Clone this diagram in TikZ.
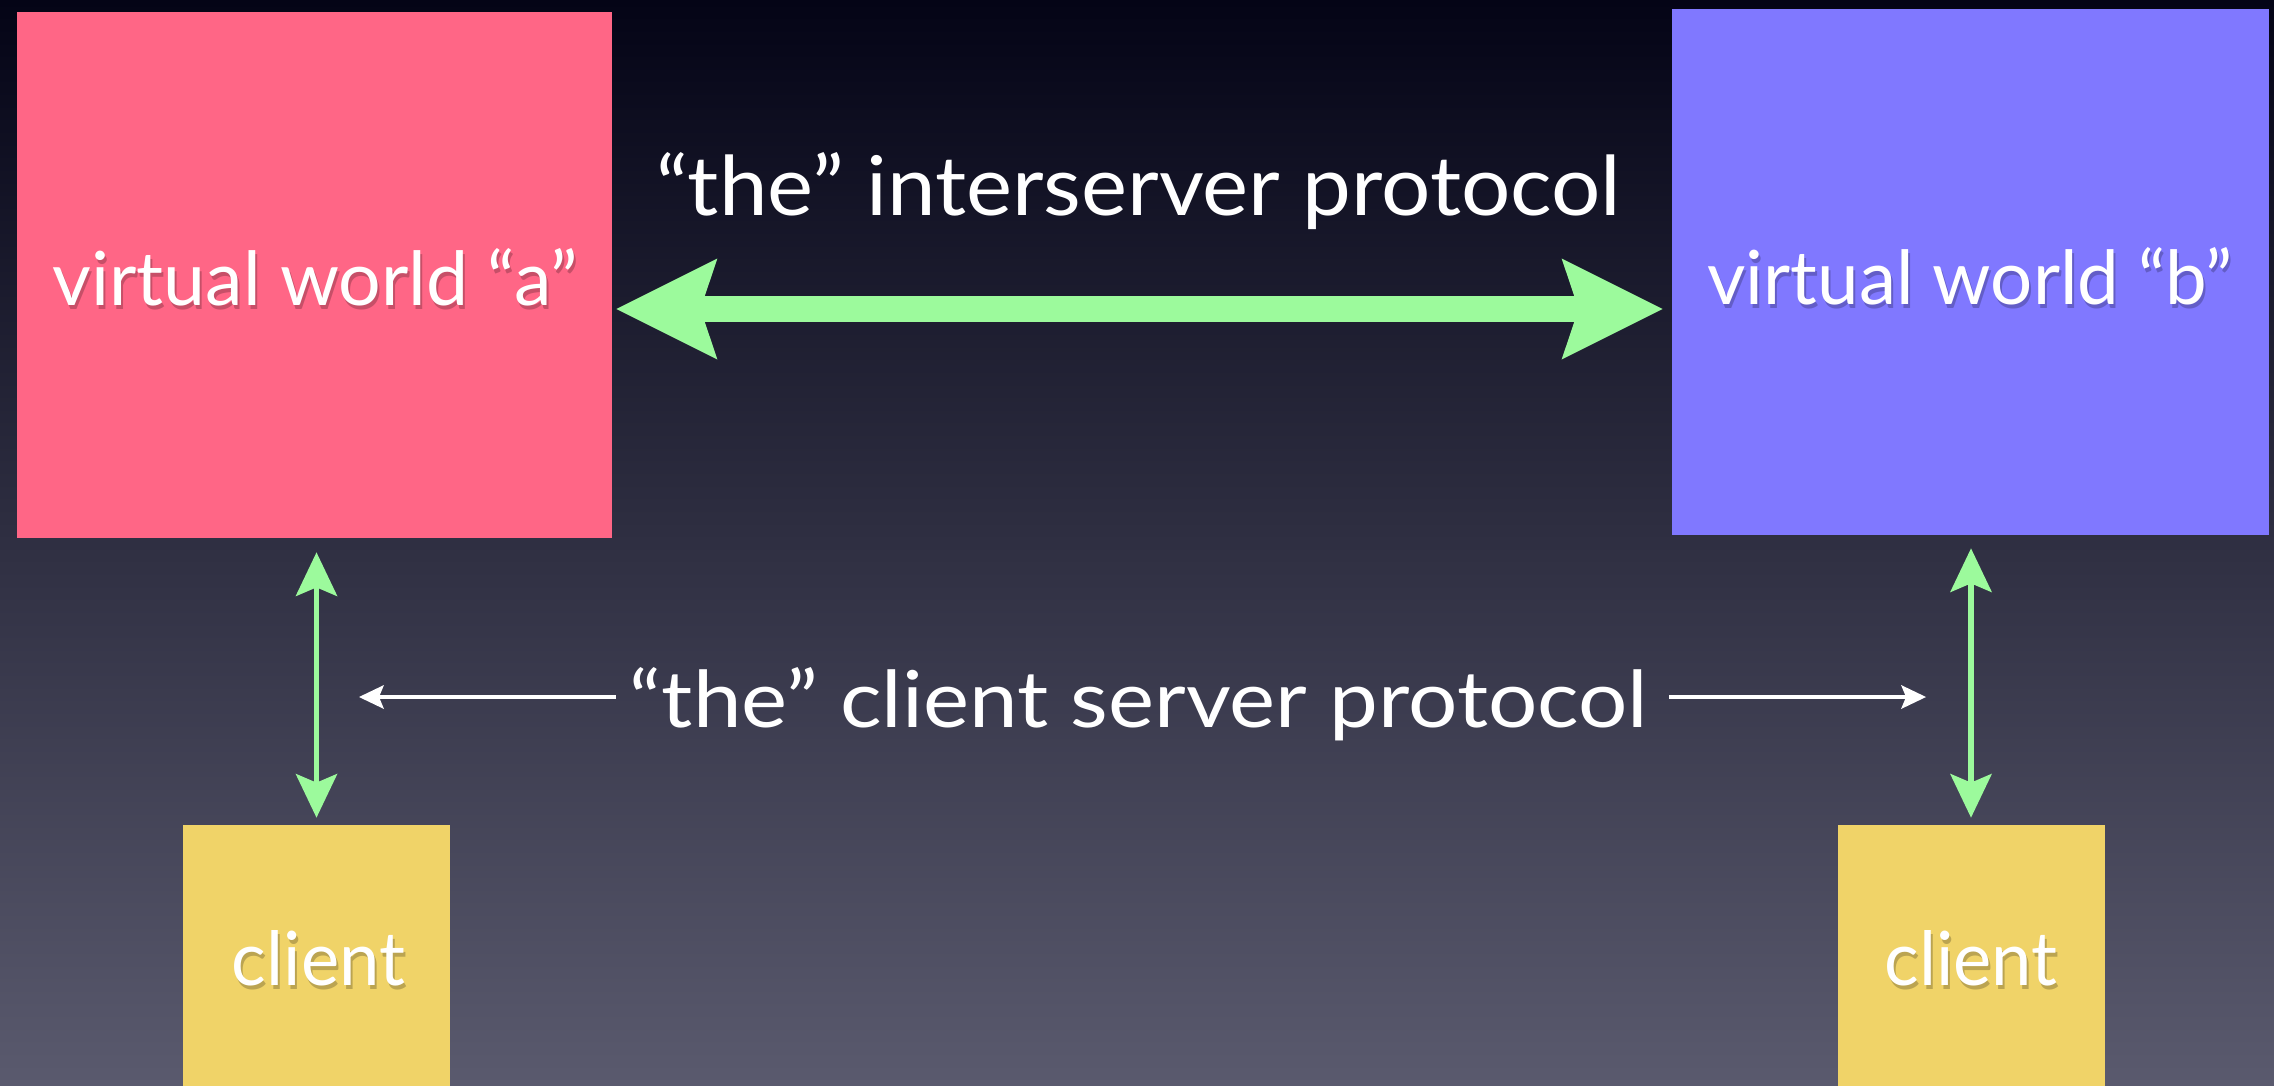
\documentclass[tikz,border=0pt]{standalone}
\usepackage{fontspec}
\setmainfont{Lato}
\usetikzlibrary{arrows.meta,calc}
\definecolor{pinkA}{RGB}{255,102,134}
\definecolor{blueB}{RGB}{128,120,255}
\definecolor{goldC}{RGB}{240,211,104}
\definecolor{greenA}{RGB}{156,250,156}
\definecolor{bgtop}{RGB}{4,4,22}
\definecolor{bgbot}{RGB}{90,90,110}
\begin{document}
\begin{tikzpicture}[x=0.5pt,y=-0.5pt,
  world/.style={draw=none, inner sep=0pt, minimum width=#1, minimum height=263pt},
  clientbox/.style={draw=none, fill=goldC, inner sep=0pt, minimum width=133.5pt, minimum height=132.5pt},
  lbl/.style={text=white, inner sep=0pt, anchor=base, font=\fontsize{40}{48}\selectfont},
  shadowlbl/.style={lbl, text=black, text opacity=0.22},
  bigarrow/.style={draw=greenA, line width=13pt,
    {Stealth[length=50.5pt,width=50.5pt,inset=8.5pt,line width=0pt]}-{Stealth[length=50.5pt,width=50.5pt,inset=8.5pt,line width=0pt]}},
  varrow/.style={draw=greenA, line width=2.7pt,
    {Stealth[length=22pt,width=21pt,inset=4.5pt,line width=0pt]}-{Stealth[length=22pt,width=21pt,inset=4.5pt,line width=0pt]}},
  warrow/.style={draw=white, line width=2pt,
    -{Stealth[length=12.5pt,width=12pt,inset=2.5pt,line width=0pt]}}
]
\clip (0,0) rectangle (2274,1086);
\fill[top color=bgtop, bottom color=bgbot] (0,0) rectangle (2274,1086);

% boxes
\node[world=297.5pt, fill=pinkA] (a) at (314.5,275) {};
\node[world=298.5pt, fill=blueB] (b) at (1970.5,272) {};
\node[clientbox] (ca) at (316.5,957.5) {};
\node[clientbox] (cb) at (1971,957.5) {};

% box labels
\node[shadowlbl] (las) at (317,309) {\resizebox{262.5pt}{28.5pt}{virtual world “a”}};
\node[lbl] (la) at (315,305) {\resizebox{262.5pt}{28.5pt}{virtual world “a”}};
\node[shadowlbl] (lbs) at (1972,308) {\resizebox{262.5pt}{28.5pt}{virtual world “b”}};
\node[lbl] (lb) at (1970,304) {\resizebox{262.5pt}{28.5pt}{virtual world “b”}};
\node[shadowlbl] (lcas) at (320.5,989) {\resizebox{86.5pt}{27.5pt}{client}};
\node[lbl] (lca) at (318.5,985) {\resizebox{86.5pt}{27.5pt}{client}};
\node[shadowlbl] (lcbs) at (1973,989) {\resizebox{86.5pt}{27.5pt}{client}};
\node[lbl] (lcb) at (1971,985) {\resizebox{86.5pt}{27.5pt}{client}};

% protocol labels
\node[lbl] (isp) at (1138.5,215) {\resizebox{482.5pt}{31.5pt}{“the” interserver protocol}};
\node[lbl] (csp) at (1139,727) {\resizebox{509pt}{30pt}{“the” client server protocol}};

% interserver arrow
\draw[bigarrow, shorten <=2pt, shorten >=4.5pt] ($(a.east)+(0,34)$) -- ($(a.east -| b.west)+(0,34)$);

% client-server arrows
\draw[varrow, shorten <=7pt, shorten >=3.5pt] (ca.north |- a.south) -- (ca.north);
\draw[varrow, shorten <=6.5pt, shorten >=3.5pt] (cb.north |- b.south) -- (cb.north);

% white pointers
\coordinate (cl) at (359,697);
\coordinate (cr) at (1926,697);
\draw[warrow] ($(csp.west |- cl)+(-14,0)$) -- (cl);
\draw[warrow] ($(csp.east |- cr)+(21,0)$) -- (cr);
\end{tikzpicture}
\end{document}
